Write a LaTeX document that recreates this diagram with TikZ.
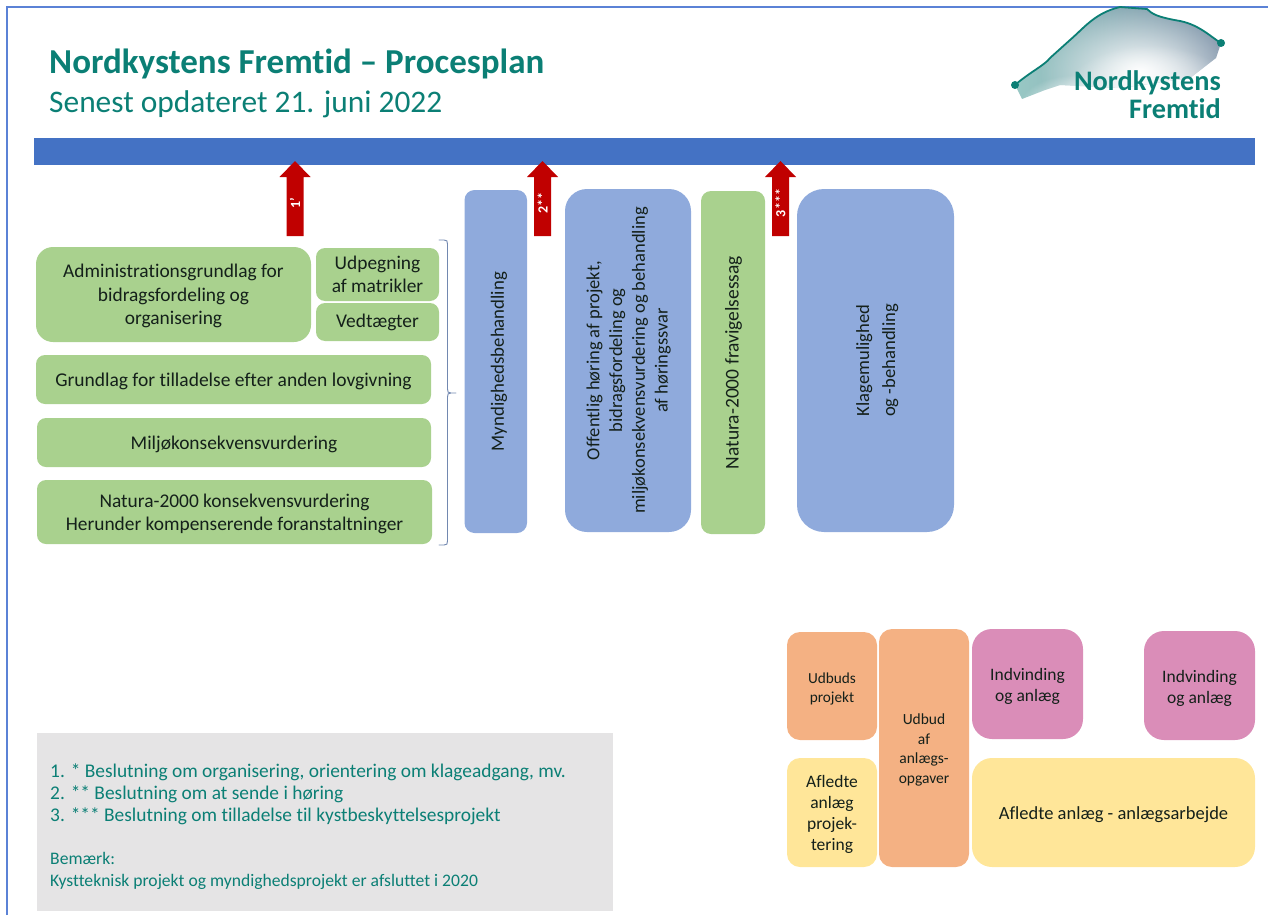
\documentclass[tikz,border=0pt]{standalone}
\usepackage{fontspec}
\setmainfont{Carlito}[Ligatures=NoCommon]
\usetikzlibrary{fadings,calc}
\definecolor{framec}{HTML}{5B82D6}
\definecolor{barc}{HTML}{4472C4}
\definecolor{greenc}{HTML}{A9D18E}
\definecolor{bluec}{HTML}{8FAADC}
\definecolor{orangec}{HTML}{F4B183}
\definecolor{pinkc}{HTML}{DA8DB8}
\definecolor{yellowc}{HTML}{FFE699}
\definecolor{greyc}{HTML}{E5E4E5}
\definecolor{redc}{HTML}{C00000}
\definecolor{tealc}{HTML}{0B7F75}
\definecolor{slatec}{HTML}{7F92A8}
\definecolor{inkc}{HTML}{14201A}
\tikzfading[name=softc, inner color=transparent!0, outer color=transparent!100]
\newcommand{\fs}[2]{\fontsize{#1}{#2}\selectfont}
\newcommand{\vtext}[2]{\hspace*{#1pt}\rotatebox{90}{\begin{tabular}{@{}c@{}}#2\end{tabular}}}
\newcommand{\dn}[2]{\raisebox{-#1pt}[\height][\depth]{\begin{tabular}{@{}c@{}}#2\end{tabular}}}
\newcommand{\redarrow}[4]{%
  \fill[redc] (#2-8.5,236) -- (#2-8.5,177) -- (#2-15.5,177) -- (#2,161) -- (#2+15.5,177) -- (#2+8.5,177) -- (#2+8.5,236) -- cycle;
  \node[arrowlabel] (#1) at (#2,#3) {\rotatebox{90}{\fs{14}{16}\bfseries #4}};}
\newcommand{\boxat}[9]{% name, x1,y1,x2,y2, fill, radius, font, text
  \path let \n1={#4-#2}, \n2={#5-#3} in
  node[panel, fill=#6, rounded corners=#7pt, minimum width=\n1 pt, minimum height=\n2 pt, font=#8]
  (#1) at ({(#2+#4)/2},{(#3+#5)/2}) {#9};}
\tikzset{
  panel/.style={inner sep=0pt, outer sep=0pt, align=center, text=inkc},
  arrowlabel/.style={inner sep=0pt, text=white},
  legendline/.style={anchor=base west, inner sep=0pt, text=tealc},
}
\begin{document}
\begin{tikzpicture}[x=1pt,y=-1pt]
\useasboundingbox (0,0) rectangle (1268,915);
% frame
\draw[framec, line width=2pt] (7,915) -- (7,7) -- (1268,7);
% title
\node[anchor=base west, inner sep=0pt, text=tealc] (title) at (49,74) {\fs{35}{40}\bfseries Nordkystens Fremtid – Procesplan};
\node[anchor=base west, inner sep=0pt, text=tealc] (subtitle) at (49,113) {\fs{31.4}{36}Senest opdateret 21. juni 2022};
% logo
\begin{scope}
\clip (1015,85) .. controls (1030,72) and (1045,65) .. (1050,58) -- (1070,40) .. controls (1085,27) and (1095,13) .. (1120,7) -- (1147,9) .. controls (1152,14) and (1157,17) .. (1180,21) .. controls (1200,25) and (1212,38) .. (1221,43) -- (1216,58) -- (1190,78) -- (1120,88) -- (1060,85) -- (1045,90) -- (1022,99) -- cycle;
\shade[left color=tealc!42, right color=slatec] (1010,0) rectangle (1225,105);
\fill[white, path fading=softc, fit fading=true] (1140,72) ellipse [x radius=100pt, y radius=65pt];
\fill[white, path fading=softc, fit fading=true] (1150,100) ellipse [x radius=90pt, y radius=55pt];
\fill[white, path fading=softc, fit fading=true] (1075,105) ellipse [x radius=55pt, y radius=30pt];
\end{scope}
\draw[tealc, line width=1.8pt, line join=round] (1015,85) .. controls (1030,72) and (1045,65) .. (1050,58) -- (1070,40) .. controls (1085,27) and (1095,13) .. (1120,7) -- (1147,9) .. controls (1152,14) and (1157,17) .. (1180,21) .. controls (1200,25) and (1212,38) .. (1221,43);
\fill[tealc] (1015,85) circle (4pt) (1221,43) circle (4pt);
\node[anchor=base east, inner sep=0pt, text=tealc] (logoa) at (1221,91) {\fs{28.3}{30}\bfseries Nordkystens};
\node[anchor=base east, inner sep=0pt, text=tealc] (logob) at (1221,119) {\fs{28.3}{30}\bfseries Fremtid};
% bar
\fill[barc] (34,138) rectangle (1255,165);
% red arrows
\redarrow{arrone}{295}{203}{1'}
\redarrow{arrtwo}{542.5}{203}{2**}
\redarrow{arrthree}{780.5}{203}{3***}
% green stack
\boxat{admin}{36}{247}{311}{342}{greenc}{17}{\fs{19.4}{23.3}}{\dn{2}{Administrationsgrundlag for\\bidragsfordeling og\\organisering}}
\boxat{udp}{316}{248}{439}{301}{greenc}{9}{\fs{19.4}{23.3}}{Udpegning\\af matrikler}
\boxat{ved}{316}{303}{439}{341}{greenc}{9}{\fs{19.4}{23.3}}{\dn{1}{Vedtægter}}
\boxat{grund}{36}{355}{431}{404}{greenc}{9}{\fs{19.5}{23.3}}{\dn{2}{Grundlag for tilladelse efter anden lovgivning}}
\boxat{milj}{37}{418}{431}{467}{greenc}{9}{\fs{19.4}{23.3}}{\dn{2}{Miljøkonsekvensvurdering}}
\boxat{nat}{37}{480}{432}{544}{greenc}{9}{\fs{19.4}{23.3}}{\dn{2}{Natura-2000 konsekvensvurdering\\Herunder kompenserende foranstaltninger}}
% bracket
\coordinate (bracetop) at (439,240);
\coordinate (bracemid) at (456,393);
\coordinate (bracebot) at (439,545);
\draw[bluec!80!black, line width=0.9pt, line cap=round] (bracetop) -- (444,240) .. controls (447,240) and (447.5,241) .. (447.5,244) -- (447.5,389) .. controls (447.5,392) and (448,393) .. (451,393) -- (bracemid) (451,393) .. controls (448,393) and (447.5,394) .. (447.5,397) -- (447.5,541) .. controls (447.5,544) and (447,545) .. (444,545) -- (bracebot);
% vertical phases
\boxat{mynd}{464.5}{190}{527}{533}{bluec}{10}{\fs{18.8}{23}}{\vtext{7}{Myndighedsbehandling}}
\boxat{hoer}{565}{189}{691}{532}{bluec}{22}{\fs{18.5}{22.7}}{\vtext{2}{Offentlig høring af projekt,\\bidragsfordeling og\\miljøkonsekvensvurdering og behandling\\af høringssvar}}
\boxat{frav}{701}{191}{765}{534}{greenc}{10}{\fs{19.5}{23}}{\vtext{2}{Natura-2000 fravigelsessag}}
\boxat{klag}{797}{189}{954}{532}{bluec}{27}{\fs{18.6}{26}}{\vtext{3}{Klagemulighed\\og -behandling}}
% lower right
\boxat{udbp}{787}{632}{877}{740}{orangec}{13}{\fs{15.3}{19}}{\dn{3.5}{Udbuds\\projekt}}
\boxat{udba}{879}{629}{969}{867}{orangec}{13}{\fs{15.5}{19.5}}{\dn{2}{Udbud\\af\\anlægs-\\opgaver}}
\boxat{indva}{972}{629}{1083}{739}{pinkc}{20}{\fs{17.5}{21}}{\dn{3}{Indvinding\\og anlæg}}
\boxat{indvb}{1144}{631}{1255}{740}{pinkc}{20}{\fs{17.5}{21}}{\dn{3}{Indvinding\\og anlæg}}
\boxat{aflp}{787}{758}{877}{867}{yellowc}{13}{\fs{17.5}{21}}{\dn{2.5}{Afledte\\anlæg\\projek-\\tering}}
\boxat{afla}{972}{758}{1255}{867}{yellowc}{20}{\fs{18.5}{23}}{\dn{2}{Afledte anlæg - anlægsarbejde}}
% legend
\fill[greyc] (37,733) rectangle (613,911);
\node[legendline] (lega) at (50,777) {\fs{19.4}{22}1. * Beslutning om organisering, orientering om klageadgang, mv.};
\node[legendline] (legb) at (50,799) {\fs{19.4}{22}2. ** Beslutning om at sende i høring};
\node[legendline] (legc) at (50,821) {\fs{19.4}{22}3. *** Beslutning om tilladelse til kystbeskyttelsesprojekt};
\node[legendline] (legd) at (50,864) {\fs{17.6}{22}Bemærk:};
\node[legendline] (lege) at (50,886) {\fs{17.6}{22}Kystteknisk projekt og myndighedsprojekt er afsluttet i 2020};
\end{tikzpicture}
\end{document}
